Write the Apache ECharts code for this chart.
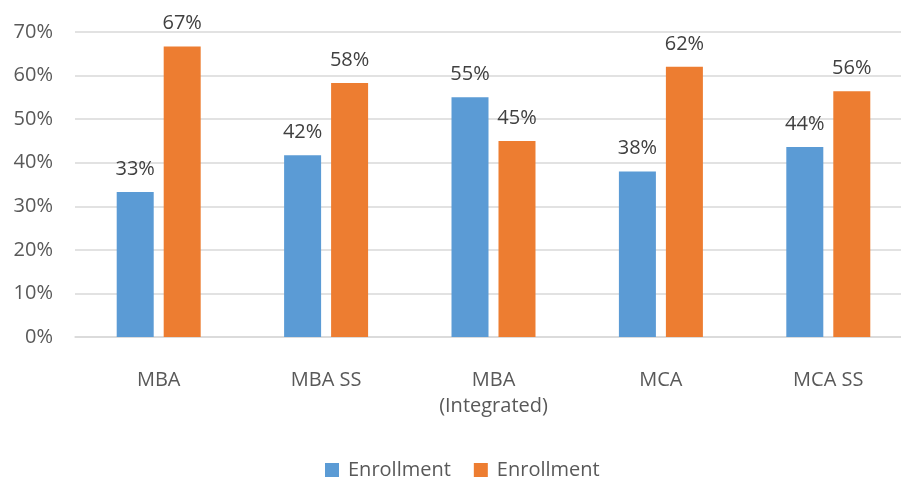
<!DOCTYPE html>
<html><head><meta charset="utf-8">
<script src="https://cdn.jsdelivr.net/npm/echarts@6/dist/echarts.min.js"></script>
<style>html,body{margin:0;padding:0;background:#fff;overflow:hidden}#c{width:912px;height:482px}</style>
</head><body><div id="c"></div>
<script>
const categories = ['MBA', 'MBA SS', 'MBA\n(Integrated)', 'MCA', 'MCA SS'];
const seriesA = [33.3, 41.7, 55.0, 38.0, 43.6];
const seriesB = [66.7, 58.3, 45.0, 62.0, 56.4];
const yTicks = [0, 10, 20, 30, 40, 50, 60, 70];
const seriesNames = ['Enrollment', 'Enrollment '];

const FONT = '"Open Sans", "Liberation Sans", sans-serif';
const TXT = '#595959';
const FS = 20;
const chart = echarts.init(document.getElementById('c'), null, {renderer: 'canvas'});
const lbl = {show: true, position: 'top', distance: 13, color: '#404040', fontSize: FS, fontFamily: FONT,
  formatter: p => Math.round(p.value) + '%'};
chart.setOption({
  animation: false,
  grid: {left: 75, right: 0, top: 32, bottom: 145},
  legend: {
    top: 455, left: 320, itemWidth: 14, itemHeight: 14, itemGap: 23, icon: 'rect',
    textStyle: {color: TXT, fontSize: FS, fontFamily: FONT, padding: [0, 0, 0, 4]},
    data: seriesNames
  },
  xAxis: {
    type: 'category', data: categories,
    axisLine: {lineStyle: {color: '#d9d9d9', width: 1.5}},
    axisTick: {show: false},
    axisLabel: {color: TXT, fontSize: FS, fontFamily: FONT, margin: 30, lineHeight: 26}
  },
  yAxis: {
    type: 'value', min: yTicks[0], max: yTicks[yTicks.length - 1], interval: 10,
    axisLine: {show: false}, axisTick: {show: false},
    splitLine: {lineStyle: {color: '#d9d9d9', width: 1.5}},
    axisLabel: {color: TXT, fontSize: FS, fontFamily: FONT, margin: 22, formatter: v => v + '%'}
  },
  series: [
    {name: seriesNames[0], type: 'bar', data: seriesA, barWidth: 37, barGap: '27%',
     itemStyle: {color: '#5b9bd5'}, label: lbl},
    {name: seriesNames[1], type: 'bar', data: seriesB, barWidth: 37,
     itemStyle: {color: '#ed7d31'}, label: lbl}
  ]
});
</script></body></html>
